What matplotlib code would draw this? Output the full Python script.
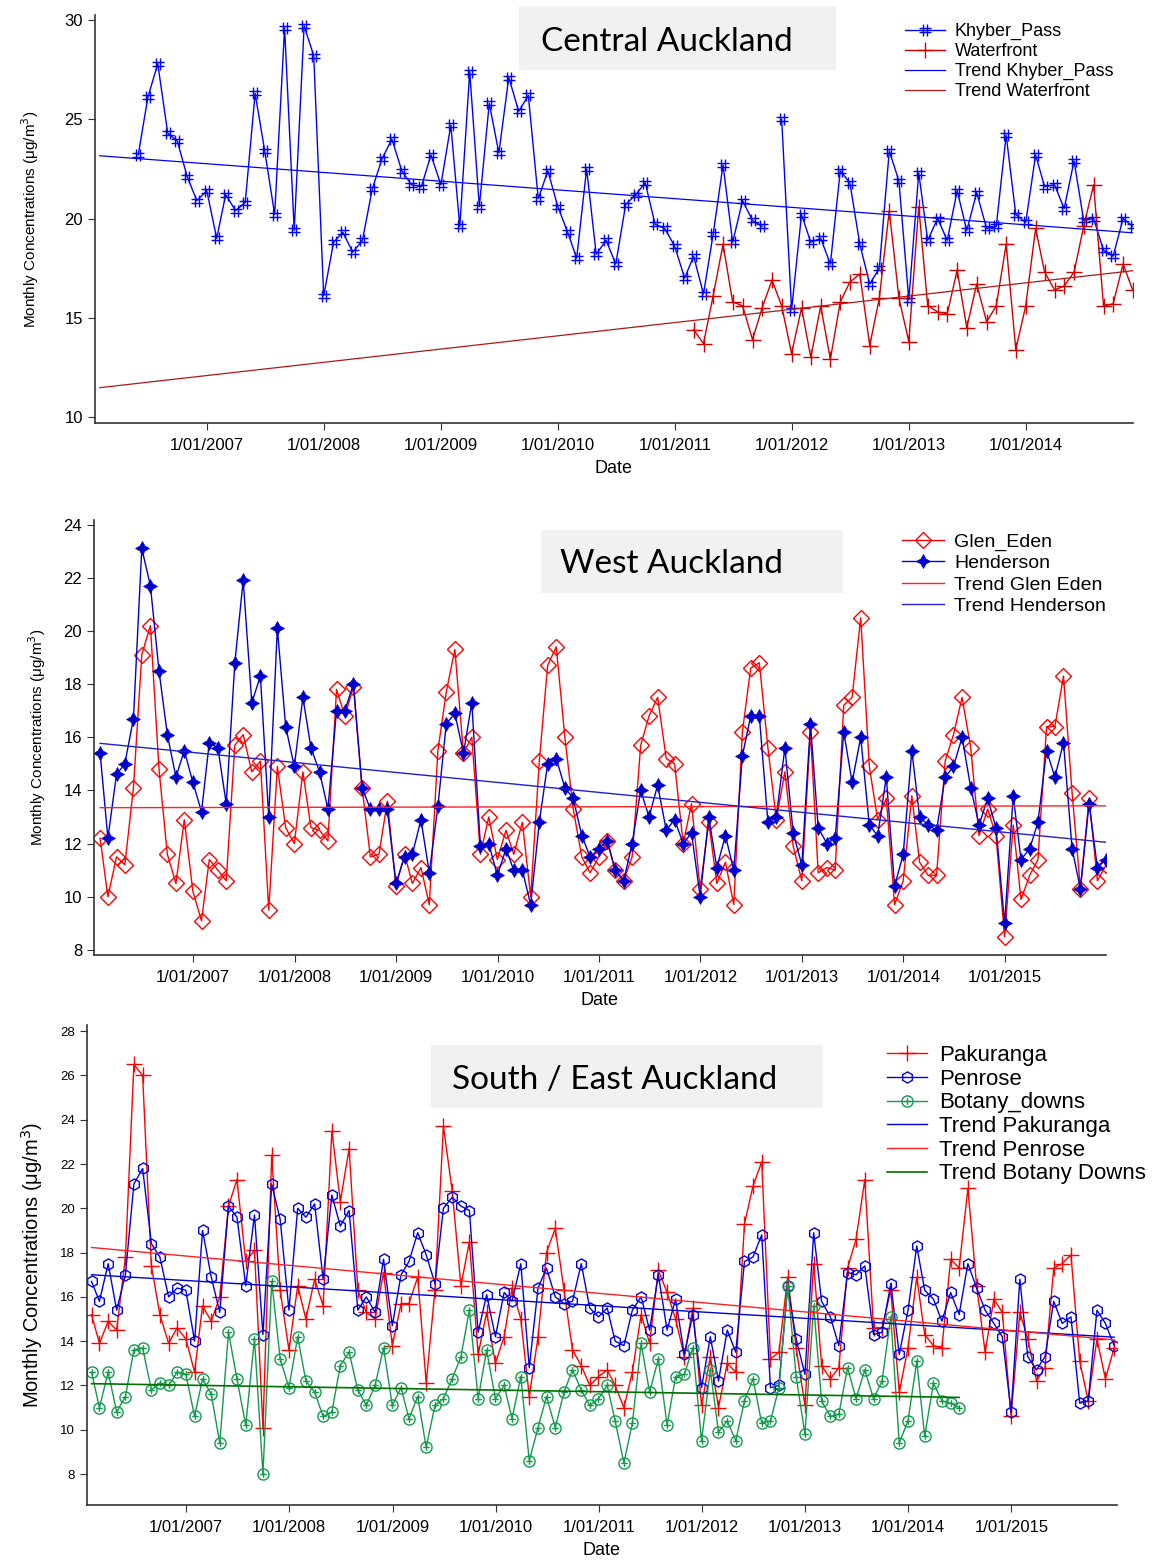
import numpy as np
import pandas as pd
import matplotlib

matplotlib.use("Agg")
import matplotlib.pyplot as plt
from matplotlib.path import Path
from matplotlib.patches import Rectangle

nan = np.nan

# ---- Central Auckland (monthly means, month-end dates) ----
khyber_start = "2006-05-31"
khyber_pass = [
    23.2, 26.1, 27.8, 24.3, 23.9, 22.1, 20.9, 21.4, 19.0, 21.2,
    20.4, 20.8, 26.3, 23.4, 20.2, 29.6, 19.4, 29.7, 28.2, 16.1,
    18.8, 19.3, 18.3, 18.9, 21.5, 23.0, 24.0, 22.4, 21.7, 21.6,
    23.2, 21.7, 24.7, 19.6, 27.4, 20.6, 25.8, 23.3, 27.1, 25.4,
    26.2, 21.0, 22.4, 20.6, 19.3, 18.0, 22.5, 18.2, 18.9, 17.7,
    20.7, 21.2, 21.8, 19.7, 19.5, 18.6, 17.0, 18.1, 16.2, 19.2,
    22.7, 18.8, 20.9, 19.9, 19.6, nan, 25.0, 15.4, 20.2, 18.8,
    19.0, 17.7, 22.4, 21.8, 18.7, 16.7, 17.5, 23.4, 21.9, 15.9,
    22.3, 18.9, 20.0, 18.9, 21.4, 19.4, 21.3, 19.5, 19.6, 24.2,
    20.2, 19.8, 23.2, 21.6, 21.7, 20.5, 22.9, 19.9, 20.0, 18.4,
    18.1, 20.0, 19.6,
]
waterfront_start = "2011-02-28"
waterfront = [
    14.4, 13.7, 16.1, 18.7, 15.8, 15.6, 13.9, 15.5, 16.9, 15.6,
    13.2, 15.5, 13.0, 15.6, 12.9, 15.8, 16.8, 17.2, 13.6, 16.0,
    20.4, 16.0, 13.8, 20.6, 15.6, 15.3, 15.2, 17.4, 14.5, 16.7,
    14.8, 15.6, 18.7, 13.4, 15.6, 19.5, 17.3, 16.4, 16.6, 17.3,
    19.6, 21.7, 15.6, 15.7, 17.7, 16.4,
]
central_trend_dates = ["2006-01-31", "2014-11-30"]
trend_khyber = [23.16, 19.28]
trend_waterfront = [11.48, 17.37]

# ---- West Auckland ----
west_start = "2006-01-31"
glen_eden = [
    12.2, 10.0, 11.5, 11.2, 14.1, 19.1, 20.2, 14.8, 11.6, 10.5,
    12.9, 10.2, 9.1, 11.4, 11.0, 10.6, 15.7, 16.1, 14.7, 15.1,
    9.5, 14.9, 12.6, 12.0, 14.7, 12.6, 12.5, 12.1, 17.8, 16.8,
    17.9, 14.1, 11.5, 11.6, 13.6, 10.4, 11.6, 10.5, 11.1, 9.7,
    15.5, 17.7, 19.3, 15.4, 16.0, 11.6, 13.0, 11.4, 12.5, 11.6,
    12.8, 10.0, 15.1, 18.7, 19.4, 16.0, 13.3, 11.5, 10.9, 11.5,
    12.1, 11.0, 10.6, 11.5, 15.7, 16.8, 17.5, 15.2, 15.0, 12.0,
    13.5, 10.3, 12.8, 10.5, 11.3, 9.7, 16.2, 18.6, 18.8, 15.6,
    12.9, 14.7, 11.9, 10.6, 16.2, 10.9, 11.1, 11.0, 17.2, 17.5,
    20.5, 14.9, 12.9, 13.7, 9.7, 10.6, 13.8, 11.3, 10.8, 10.8,
    15.1, 16.1, 17.5, 15.6, 12.3, 13.3, 12.3, 8.5, 12.7, 9.9,
    10.8, 11.4, 16.4, 16.4, 18.3, 13.9, 10.3, 13.7, 10.6, 11.2,
]
henderson = [
    15.4, 12.2, 14.6, 15.0, 16.7, 23.1, 21.7, 18.5, 16.1, 14.5,
    15.5, 14.3, 13.2, 15.8, 15.6, 13.5, 18.8, 21.9, 17.3, 18.3,
    13.0, 20.1, 16.4, 14.9, 17.5, 15.6, 14.7, 13.3, 17.0, 17.0,
    18.0, 14.1, 13.3, 13.3, 13.3, 10.5, 11.5, 11.6, 12.9, 10.9,
    13.4, 16.5, 16.9, 15.4, 17.3, 11.9, 12.0, 10.8, 11.8, 11.0,
    11.0, 9.7, 12.8, 15.0, 15.2, 14.1, 13.7, 12.3, 11.5, 11.8,
    12.1, 11.0, 10.6, 12.0, 14.0, 13.0, 14.2, 12.5, 12.9, 12.0,
    12.4, 10.0, 13.0, 11.1, 12.3, 11.0, 15.3, 16.8, 16.8, 12.8,
    13.0, 15.6, 12.4, 11.2, 16.5, 12.6, 12.0, 12.2, 16.2, 14.3,
    16.0, 12.7, 12.3, 14.5, 10.4, 11.6, 15.5, 13.0, 12.7, 12.5,
    14.5, 14.9, 16.0, 14.1, 12.7, 13.7, 12.6, 9.0, 13.8, 11.4,
    11.8, 12.8, 15.5, 14.5, 15.8, 11.8, 10.3, 13.5, 11.1, 11.4,
]
west_trend_dates = ["2006-01-31", "2015-12-31"]
trend_glen_eden = [13.35, 13.42]
trend_henderson = [15.77, 12.05]

# ---- South / East Auckland ----
south_start = "2006-01-31"
pakuranga = [
    15.2, 13.9, 14.9, 14.5, 17.8, 26.5, 26.0, 17.4, 15.2, 13.9,
    14.6, 14.1, 12.6, 15.6, 14.9, 16.0, 20.1, 21.3, 17.6, 18.1,
    10.1, 22.4, 16.3, 13.6, 16.5, 15.0, 16.8, 15.6, 23.5, 20.3,
    22.7, 16.3, 15.3, 15.0, 17.1, 13.8, 15.7, 15.7, 16.9, 12.1,
    16.3, 23.7, 20.8, 16.5, 18.5, 13.4, 15.3, 13.0, 14.2, 16.4,
    15.0, 11.5, 14.2, 18.0, 19.1, 16.3, 13.6, 12.9, 12.0, 12.4,
    12.7, 12.0, 11.0, 12.6, 15.2, 13.9, 17.2, 16.2, 15.0, 13.3,
    15.5, 11.1, 13.3, 11.0, 13.0, 12.6, 19.3, 21.0, 22.1, 13.2,
    13.5, 16.9, 13.7, 11.1, 17.5, 12.9, 12.3, 12.8, 17.3, 18.6,
    21.3, 14.6, 14.6, 16.3, 11.7, 13.7, 16.9, 14.3, 13.8, 13.7,
    17.7, 17.3, 20.9, 16.5, 13.5, 15.9, 15.3, 10.6, 15.3, 14.1,
    12.2, 12.8, 17.3, 17.5, 17.9, 13.1, 11.3, 14.1, 12.3, 13.7,
]
penrose = [
    16.7, 15.8, 17.5, 15.4, 17.0, 21.1, 21.8, 18.4, 17.8, 16.0,
    16.4, 16.3, 14.0, 19.0, 16.9, 15.3, 20.1, 19.6, 16.5, 19.7,
    14.3, 21.1, 19.5, 15.4, 20.0, 19.6, 20.2, 16.8, 20.6, 19.2,
    19.9, 15.4, 16.0, 15.3, 17.7, 14.7, 17.0, 17.6, 18.9, 17.9,
    16.6, 20.0, 20.5, 20.1, 19.9, 14.4, 16.1, 14.2, 16.2, 15.8,
    17.5, 12.8, 16.4, 17.3, 16.0, 15.7, 15.8, 17.5, 15.5, 15.1,
    15.5, 14.0, 13.8, 15.4, 16.0, 14.5, 17.0, 14.5, 15.9, 13.4,
    15.2, 11.9, 14.2, 12.2, 14.5, 13.5, 17.6, 17.8, 18.8, 11.9,
    12.0, 16.5, 14.1, 12.5, 18.9, 15.8, 15.1, 13.8, 17.1, 17.0,
    17.4, 14.3, 14.4, 16.6, 13.4, 15.4, 18.3, 16.3, 15.9, 14.9,
    16.2, 15.2, 17.5, 16.4, 15.4, 14.8, 14.2, 10.8, 16.8, 13.3,
    12.7, 13.3, 15.8, 14.8, 15.1, 11.2, 11.3, 15.4, 14.8, 13.8,
]
botany_downs = [
    12.6, 11.0, 12.6, 10.8, 11.5, 13.6, 13.7, 11.8, 12.1, 12.0,
    12.6, 12.5, 10.6, 12.3, 11.6, 9.4, 14.4, 12.3, 10.2, 14.1,
    8.0, 16.7, 13.2, 11.9, 14.2, 12.2, 11.7, 10.6, 10.8, 12.9,
    13.5, 11.8, 11.1, 12.0, 13.7, 11.1, 11.9, 10.5, 11.5, 9.2,
    11.1, 11.4, 12.3, 13.3, 15.4, 11.4, 13.6, 11.4, 12.0, 10.5,
    12.4, 8.6, 10.1, 11.5, 10.1, 11.7, 12.7, 11.8, 11.1, 11.4,
    12.0, 10.4, 8.5, 10.3, 13.9, 11.7, 13.2, 10.2, 12.4, 12.5,
    13.7, 9.5, 12.7, 9.9, 10.4, 9.5, 11.3, 12.3, 10.3, 10.4,
    11.9, 16.5, 12.4, 9.8, 15.6, 11.3, 10.6, 10.7, 12.8, 11.4,
    12.7, 11.4, 12.2, 15.1, 9.4, 10.4, 13.1, 9.7, 12.1, 11.3,
    11.2, 11.0,
]
south_trend_dates = ["2006-01-31", "2015-12-31"]
botany_trend_dates = ["2006-01-31", "2014-06-30"]
trend_pakuranga = [17.0, 14.18]
trend_penrose = [18.23, 14.06]
trend_botany = [12.08, 11.46]

FIG_W, FIG_H = 1165, 1562


def monthly(start, values):
    return pd.date_range(start, periods=len(values), freq=pd.offsets.MonthEnd())


def px_axes(fig, left, top, right, bottom):
    return fig.add_axes([left / FIG_W, 1 - bottom / FIG_H,
                         (right - left) / FIG_W, (bottom - top) / FIG_H])


def title_box(fig, text, box, centre):
    left, top, right, bottom = box
    fig.patches.append(Rectangle((left / FIG_W, 1 - bottom / FIG_H),
                                 (right - left) / FIG_W, (bottom - top) / FIG_H,
                                 transform=fig.transFigure, facecolor="#f1f1f1",
                                 edgecolor="none", zorder=5))
    fig.text(centre[0] / FIG_W, 1 - centre[1] / FIG_H, text,
             ha="center", va="center", fontsize=24, family="Lato", zorder=6)


def style_axes(ax, years, xlim, ylim, yticks, ytick_size, ylabel_size, ylabel_pad):
    for side in ("top", "right"):
        ax.spines[side].set_visible(False)
    for side in ("left", "bottom"):
        ax.spines[side].set_color("#333333")
        ax.spines[side].set_linewidth(1.2)
    ax.set_xlim(pd.Timestamp(xlim[0]), pd.Timestamp(xlim[1]))
    ax.set_ylim(*ylim)
    ax.set_xticks([pd.Timestamp(f"{y}-01-01") for y in years])
    ax.set_xticklabels([f"1/01/{y}" for y in years], fontsize=12)
    ax.set_yticks(yticks)
    ax.tick_params(axis="y", labelsize=ytick_size, direction="out", length=5,
                   color="#333333")
    ax.tick_params(axis="x", direction="out", length=5, color="#333333", pad=6)
    ax.set_xlabel("Date", fontsize=13, labelpad=5)
    ax.set_ylabel("Monthly Concentrations (\u03bcg/m$^3$)", fontsize=ylabel_size,
                  labelpad=ylabel_pad)


def add_legend(ax, x, y, size, spacing, handle_len):
    ax.legend(loc="upper left", bbox_to_anchor=(x / FIG_W, 1 - y / FIG_H),
              bbox_transform=ax.figure.transFigure, frameon=False, fontsize=size,
              handlelength=handle_len, handletextpad=0.55, labelspacing=spacing,
              borderpad=0)


# marker shapes
M, L = Path.MOVETO, Path.LINETO
hash_marker = Path([(-0.35, -1), (-0.35, 1), (0.35, -1), (0.35, 1),
                    (-1, -0.35), (1, -0.35), (-1, 0.35), (1, 0.35)],
                   [M, L, M, L, M, L, M, L])
star_marker = Path([(0, 1), (0.36, 0.36), (1, 0), (0.36, -0.36), (0, -1),
                    (-0.36, -0.36), (-1, 0), (-0.36, 0.36), (0, 1)])
circle_plus = Path.make_compound_path(
    Path.unit_circle(),
    Path([(-0.6, 0), (0.6, 0), (0, -0.6), (0, 0.6)], [M, L, M, L]))

plt.rcParams["font.family"] = ["Liberation Sans", "DejaVu Sans"]

fig = plt.figure(figsize=(FIG_W / 100, FIG_H / 100), dpi=100)

# ---- panel 1 ----
ax1 = px_axes(fig, 95, 15, 1133, 423)
ax1.plot(monthly(khyber_start, khyber_pass), khyber_pass, color="#0000ff", lw=1,
         marker=hash_marker, markersize=8, markeredgewidth=1, label="Khyber_Pass")
ax1.plot(monthly(waterfront_start, waterfront), waterfront, color="#d00000", lw=1,
         marker="+", markersize=11, markeredgewidth=1, label="Waterfront")
cd = pd.to_datetime(central_trend_dates)
ax1.plot(cd, trend_khyber, color="#0000ff", lw=0.9, label="Trend Khyber_Pass")
ax1.plot(cd, trend_waterfront, color="#b01818", lw=0.9, label="Trend Waterfront")
style_axes(ax1, range(2007, 2015), ("2006-01-16", "2014-12-01"), (9.7, 30.25),
           [10, 15, 20, 25, 30], 12, 11, 17)
add_legend(ax1, 896, 14, 13, 0.16, 2.2)
title_box(fig, "Central Auckland", (519, 6, 836, 70), (667, 42))

# ---- panel 2 ----
ax2 = px_axes(fig, 94, 520, 1106, 955)
wd = monthly(west_start, glen_eden)
ax2.plot(wd, glen_eden, color="#ff0000", lw=1, marker="D", markersize=8,
         markerfacecolor="none", markeredgewidth=1, label="Glen_Eden")
ax2.plot(wd, henderson, color="#0000cc", lw=1, marker=star_marker, markersize=10,
         markerfacecolor="#0000cc", markeredgewidth=0.5, label="Henderson")
wt = pd.to_datetime(west_trend_dates)
ax2.plot(wt, trend_glen_eden, color="#ff2020", lw=1, label="Trend Glen Eden")
ax2.plot(wt, trend_henderson, color="#2020d0", lw=1, label="Trend Henderson")
style_axes(ax2, range(2007, 2016), ("2006-01-09", "2015-12-31"), (7.81, 24.17),
           list(range(8, 25, 2)), 12, 11, 11)
add_legend(ax2, 892, 523, 14, 0.2, 2.15)
title_box(fig, "West Auckland", (541, 530, 843, 593), (672, 564))

# ---- panel 3 ----
ax3 = px_axes(fig, 87, 1025, 1117, 1505)
sd = monthly(south_start, pakuranga)
ax3.plot(sd, pakuranga, color="#ff0000", lw=1, marker="+", markersize=11,
         markeredgewidth=1, label="Pakuranga")
ax3.plot(sd, penrose, color="#0000e0", lw=1, marker="h", markersize=8,
         markerfacecolor="none", markeredgewidth=1, label="Penrose")
ax3.plot(monthly(south_start, botany_downs), botany_downs, color="#149a4c", lw=1,
         marker=circle_plus, markersize=8, markerfacecolor="none",
         markeredgewidth=1, label="Botany_downs")
st = pd.to_datetime(south_trend_dates)
ax3.plot(st, trend_pakuranga, color="#0000cc", lw=1, label="Trend Pakuranga")
ax3.plot(st, trend_penrose, color="#ff2020", lw=1, label="Trend Penrose")
ax3.plot(pd.to_datetime(botany_trend_dates), trend_botany, color="#007000", lw=1.2,
         label="Trend Botany Downs")
style_axes(ax3, range(2007, 2016), ("2006-01-15", "2016-01-10"), (6.6, 28.28),
           list(range(8, 29, 2)), 9.5, 14.5, 11)
add_legend(ax3, 876, 1034, 16, 0.12, 1.8)
title_box(fig, "South / East Auckland", (431, 1045, 823, 1108), (615, 1080))

fig.savefig("out.png", dpi=100)
